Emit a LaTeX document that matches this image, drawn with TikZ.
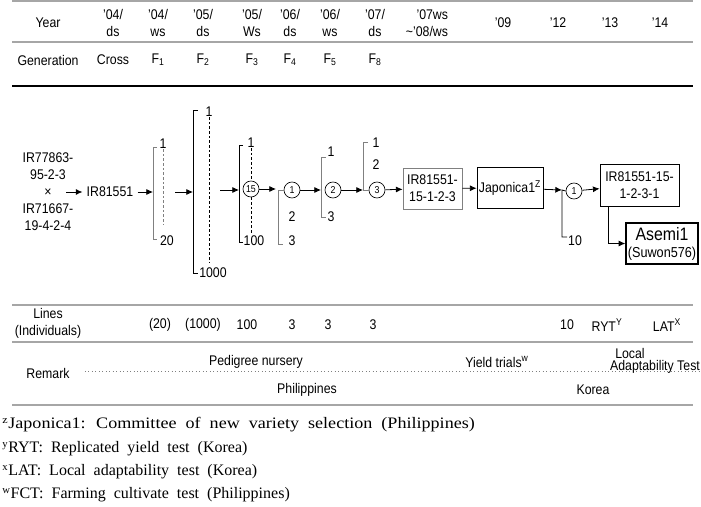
\documentclass[tikz,border=0pt]{standalone}
\usepackage{graphicx}
\usepackage{fontspec}
\setmainfont{Liberation Sans}[FakeStretch=0.88]
\newfontfamily\notefont{Liberation Serif}
\newcommand\notestyle{\notefont\fontsize{12}{14}\selectfont\spaceskip 6pt\relax}
\usetikzlibrary{arrows.meta,positioning}

\begin{document}
\begin{tikzpicture}[
    x=0.75pt, y=-0.75pt,
    font=\fontsize{10.5}{12.75}\selectfont,
    txt/.style={inner sep=0pt, align=center},
    rule/.style={draw=gray!70, line width=0.8pt},
    thickrule/.style={draw=gray!70, line width=1.6pt},
    flow/.style={-{Latex[length=5pt,width=4.5pt]}, line width=0.6pt},
    brk/.style={line width=0.6pt},
    brkgray/.style={brk, draw=gray},
    dsh/.style={dash pattern=on 2pt off 1.5pt, line width=0.5pt},
    sel/.style={circle, draw, line width=0.5pt, minimum size=12pt, inner sep=0pt, font=\fontsize{7.5}{8}\selectfont},
    linebox/.style={rectangle, draw, line width=0.6pt, align=center, inner sep=1pt, minimum height=30.75pt},
    note/.style={anchor=west, inner sep=0pt, font=\notestyle}
]
\useasboundingbox (0,0) rectangle (701,507);

% table rules
\draw[thickrule] (12,1) -- (693,1);
\draw[rule] (12,42) -- (693,42);
\draw[line width=0.8pt] (12,86) -- (693,86);
\draw[thickrule] (12,305) -- (693,305);
\draw[rule] (12,342) -- (693,342);
\draw[thickrule] (12,405) -- (693,405);
\draw[gray, dotted, line width=0.6pt] (85,371) -- (700,371);

% year row
\node[txt] (year) at (48,23) {Year};
\node[txt] (y1) at (113,23) {'04/\\ds};
\node[txt] (y2) at (158,23) {'04/\\ws};
\node[txt] (y3) at (203,23) {'05/\\ds};
\node[txt] (y4) at (252,23) {'05/\\Ws};
\node[txt] (y5) at (290,23) {'06/\\ds};
\node[txt] (y6) at (330,23) {'06/\\ws};
\node[txt] (y7) at (375,23) {'07/\\ds};
\node[txt, align=right] (y8) at (427,23) {'07ws\\\textasciitilde'08/ws};
\node[txt] (y9) at (503,23) {'09};
\node[txt] (y10) at (558,23) {'12};
\node[txt] (y11) at (610,23) {'13};
\node[txt] (y12) at (660,23) {'14};

% generation row
\node[txt] (gen) at (48,60) {Generation};
\node[txt] (g0) at (113,60) {Cross};
\node[txt] (g1) at (158,60) {F\textsubscript{1}};
\node[txt] (g2) at (203,60) {F\textsubscript{2}};
\node[txt] (g3) at (252,60) {F\textsubscript{3}};
\node[txt] (g4) at (290,60) {F\textsubscript{4}};
\node[txt] (g5) at (330,60) {F\textsubscript{5}};
\node[txt] (g6) at (375,60) {F\textsubscript{8}};

% cross
\node[txt] (par) at (48,192) {IR77863-\\95-2-3\\×\\IR71667-\\19-4-2-4};
\coordinate (xo) at (66,192);
\node[txt, inner sep=3pt] (ir) at (110,192) {IR81551};
\draw[flow] (xo) -- (ir);

% F1
\coordinate (f1) at (153,192);
\draw[flow] (ir) -- (f1);
\draw[brkgray] (157,147) -- (153,147) -- (153,239) -- (157,239);
\node[txt] (n1a) at (163,144) {1};
\node[txt] (n1b) at (167,241) {20};
\draw[dsh, gray] (n1a.south) -- (163,225);

% F2
\coordinate (f2s) at (175,192);
\coordinate (f2) at (193,192);
\draw[flow] (f2s) -- (f2);
\draw[brk] (198,110) -- (193,110) -- (193,273) -- (198,273);
\node[txt] (n2a) at (209,112) {1};
\node[txt] (n2b) at (213,273) {1000};
\draw[dsh] (n2a.south) -- (209,262);

% F3
\coordinate (f3s) at (220,190);
\coordinate (f3) at (239,190);
\draw[flow] (f3s) -- (f3);
\draw[brk] (243,145) -- (239,145) -- (239,242) -- (243,242);
\node[txt] (n3a) at (251,143) {1};
\node[sel] (c15) at (251,189) {15};
\node[txt] (n3b) at (254,241) {100};
\draw[dsh] (n3a.south) -- (c15);
\draw[dsh] (c15.south) -- (c15.south |- 0,233);

% F4
\coordinate (f4) at (276,189);
\draw[flow] (c15) -- (f4);
\node[sel] (c1a) at (292,190) {1};
\node[txt] (n4b) at (292,217) {2};
\node[txt] (n4c) at (292,241) {3};
\draw[brkgray] (c1a.west) -- (278,190) -- (278,244) -- (283,244);

% F5
\coordinate (f5) at (321,190);
\draw[flow] (c1a) -- (f5);
\draw[brkgray] (326,157) -- (321,157) -- (321,217) -- (326,217);
\node[txt] (n5a) at (331,152) {1};
\node[sel] (c2) at (333,190) {2};
\node[txt] (n5c) at (331,217) {3};

% F6
\coordinate (f6) at (363,190);
\draw[flow] (c2) -- (f6);
\node[txt] (n6a) at (376,143) {1};
\node[txt] (n6b) at (376,165) {2};
\node[sel] (c3) at (377,190) {3};
\draw[brkgray] (368,142) -- (363,142) -- (363,190) -- (c3.west);

% yield trials
\node[linebox, draw=gray, minimum width=44.25pt] (ir2) at (432.5,188.5) {IR81551-\\15-1-2-3};
\draw[flow] (c3) -- (ir2);
\node[linebox, minimum width=49.5pt, inner sep=0pt] (jp) at (510,188) {Japonica1\textsuperscript{Z}};
\draw[flow] (ir2) -- (jp);
\coordinate (f7) at (562,190);
\draw[flow] (jp) -- (f7);
\node[sel] (c4) at (574,191) {1};
\node[txt] (n7b) at (575,241) {10};
\draw[brk] (c4.west) -- (562,190) -- (562,237) -- (567,237);
\node[linebox, minimum width=59.25pt, minimum height=31.5pt] (ir3) at (639.5,185) {IR81551-15-\\1-2-3-1};
\draw[flow] (c4) -- (ir3);
\node[linebox, line width=1pt, minimum width=54pt, inner sep=0pt] (as) at (662,243.5)
    {{\fontsize{13.5}{15}\selectfont Asemi1}\\{\fontsize{10.8}{12}\selectfont (Suwon576)}};
\draw[flow] ([xshift=6.75pt]ir3.south west) |- (as);

% lines row
\node[txt] (lines) at (48,323) {Lines\\(Individuals)};
\node[txt] (l1) at (160,325) {(20)};
\node[txt] (l2) at (203,325) {(1000)};
\node[txt] (l3) at (247,325) {100};
\node[txt] (l4) at (292,325) {3};
\node[txt] (l5) at (328,325) {3};
\node[txt] (l6) at (373,325) {3};
\node[txt] (l7) at (567,325) {10};
\node[txt] (l8) at (607,325) {RYT\textsuperscript{Y}};
\node[txt] (l9) at (667,325) {LAT\textsuperscript{X}};

% remark row
\node[txt] (rem) at (48,373) {Remark};
\node[txt] (ped) at (256,362) {Pedigree nursery};
\node[txt] (phil) at (307,390) {Philippines};
\node[txt] (yt) at (497,362) {Yield trials\textsuperscript{w}};
\node[txt] (loc) at (630,353) {Local};
\node[txt] (adt) at (655,367) {Adaptability Test};
\node[txt] (kor) at (593,390) {Korea};

% footnotes
\node[note] (fz) at (2,425) {\scalebox{1.13}[1]{\textsuperscript{z}Japonica1: Committee of new variety selection (Philippines)}};
\node[note] (fy) at (2,449) {\textsuperscript{y}RYT: Replicated yield test (Korea)};
\node[note] (fx) at (2,472) {\textsuperscript{x}LAT: Local adaptability test (Korea)};
\node[note] (fw) at (2,495) {\textsuperscript{w}FCT: Farming cultivate test (Philippines)};

\end{tikzpicture}
\end{document}
